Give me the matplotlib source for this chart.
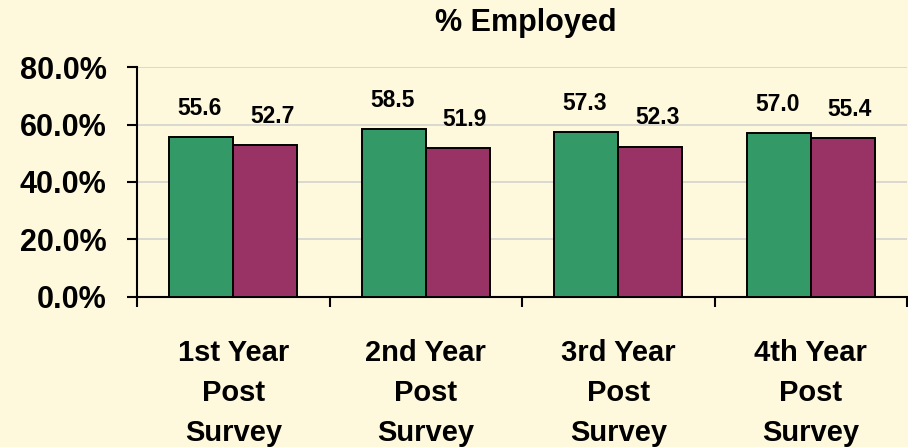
import numpy as np
import matplotlib
matplotlib.use("Agg")
import matplotlib.pyplot as plt
from matplotlib.ticker import FuncFormatter

# datos del grafico
categorias = ["1st Year\nPost\nSurvey", "2nd Year\nPost\nSurvey",
              "3rd Year\nPost\nSurvey", "4th Year\nPost\nSurvey"]
serie_verde = [55.6, 58.5, 57.3, 57.0]
serie_morada = [52.7, 51.9, 52.3, 55.4]
titulo = "% Employed"

fondo = "#FEF9DD"
verde = "#339966"
morado = "#993366"

plt.rcParams["font.family"] = ["Liberation Sans", "DejaVu Sans"]
plt.rcParams["font.weight"] = "bold"

fig = plt.figure(figsize=(9.08, 4.47), dpi=100, facecolor=fondo)
ax = fig.add_axes([0.1509, 0.3356, 0.8480, 0.5145])
ax.set_facecolor(fondo)

x = np.arange(len(categorias))
ancho = 0.333
v = np.array(serie_verde) / 100
m = np.array(serie_morada) / 100

b1 = ax.bar(x - ancho / 2, v, ancho, color=verde, edgecolor="black", linewidth=1.4, zorder=3)
b2 = ax.bar(x + ancho / 2, m, ancho, color=morado, edgecolor="black", linewidth=1.4, zorder=3)

#Etiquetas de valor sobre cada barra
for xi, val in zip(x - ancho / 2, serie_verde):
    ax.annotate(f"{val:.1f}", (xi, val / 100), xytext=(-1, 16), textcoords="offset points",
                ha="center", va="baseline", fontsize=16.5, fontweight="bold")
for xi, val in zip(x + ancho / 2, serie_morada):
    ax.annotate(f"{val:.1f}", (xi, val / 100), xytext=(5, 16), textcoords="offset points",
                ha="center", va="baseline", fontsize=16.5, fontweight="bold")

ax.set_xlim(-0.5, len(categorias) - 0.5)
ax.set_ylim(0, 0.8)
ax.set_yticks([0, 0.2, 0.4, 0.6, 0.8])
ax.yaxis.set_major_formatter(FuncFormatter(lambda y, p: f"{y * 100:.1f}%"))
ax.tick_params(axis="y", labelsize=22, length=7, width=1.5, pad=15, direction="out")

#Ticks en los limites de categoria, etiquetas en el centro
ax.set_xticks(np.arange(-0.5, len(categorias)))
ax.set_xticklabels([])
ax.set_xticks(x, minor=True)
ax.set_xticklabels(categorias, minor=True)
ax.tick_params(axis="x", which="major", length=7, width=1.5, direction="out")
ax.tick_params(axis="x", which="minor", length=0, labelsize=21, pad=30)
for lbl in ax.get_xticklabels(minor=True):
    lbl.set_linespacing(1.55)
    lbl.set_fontweight("bold")
for lbl in ax.get_yticklabels():
    lbl.set_fontweight("bold")

ax.grid(axis="y", color="#D6D6D0", linewidth=1.3, zorder=0)
ax.spines["top"].set_visible(False)
ax.spines["right"].set_visible(False)
ax.spines["left"].set_linewidth(1.5)
ax.spines["bottom"].set_linewidth(1.5)

fig.text(526 / 908, 1 - 23 / 447, titulo, ha="center", va="center",
         fontsize=22, fontweight="bold")

fig.savefig("out.png", dpi=100, facecolor=fondo)
